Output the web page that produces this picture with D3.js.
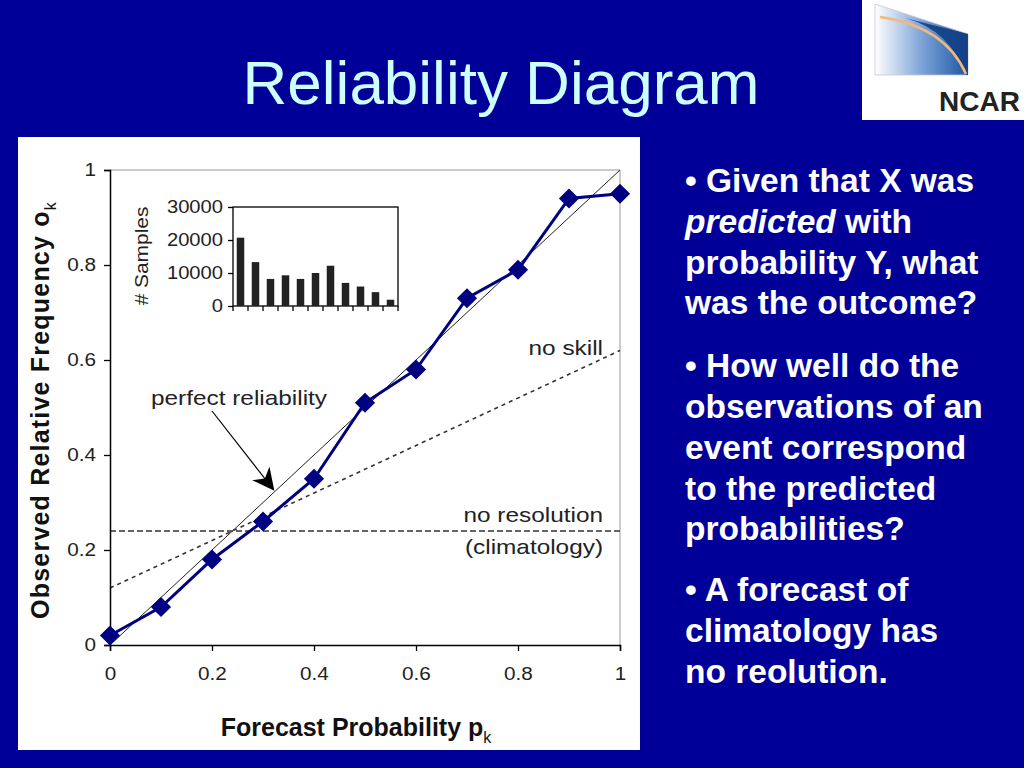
<!DOCTYPE html>
<html>
<head>
<meta charset="utf-8">
<script src="https://cdnjs.cloudflare.com/ajax/libs/d3/7.8.5/d3.min.js"></script>
<style>
  html, body { margin: 0; padding: 0; background: #000099; }
  svg { display: block; }
</style>
</head>
<body>
<svg id="slide" width="1024" height="768"></svg>
<script>
// reliability curve
const forecastProb = [0, 0.1, 0.2, 0.3, 0.4, 0.5, 0.6, 0.7, 0.8, 0.9, 1.0];
const observedFreq = [0.02, 0.08, 0.18, 0.26, 0.35, 0.51, 0.58, 0.73, 0.79, 0.94, 0.95];
// inset histogram
const sampleCounts = [20700, 13300, 8200, 9300, 8200, 10000, 12200, 7000, 5900, 4200, 1900];
const climatology = 0.24;

const mainTicks = [0, 0.2, 0.4, 0.6, 0.8, 1];
const insetTicks = [0, 10000, 20000, 30000];

const bullets = [
  [["• Given that X was", "n"]],
  [["predicted", "i"], [" with", "n"]],
  [["probability Y, what", "n"]],
  [["was the outcome?", "n"]],
  null,
  [["• How well do the", "n"]],
  [["observations of an", "n"]],
  [["event correspond", "n"]],
  [["to the predicted", "n"]],
  [["probabilities?", "n"]],
  null,
  [["• A forecast of", "n"]],
  [["climatology has", "n"]],
  [["no reolution.", "n"]]
];

const svg = d3.select("#slide");
const font = "'Liberation Sans', Arial, sans-serif";

// stretch text horizontally, the chart picture is a bit wide
function stretch(sel, k) {
  sel.each(function () {
    const w = this.getComputedTextLength();
    this.setAttribute("textLength", w * k);
    this.setAttribute("lengthAdjust", "spacingAndGlyphs");
  });
}

svg.append("rect").attr("width", 1024).attr("height", 768).attr("fill", "#000099");

// title
svg.append("text")
  .attr("x", 501).attr("y", 104)
  .attr("text-anchor", "middle")
  .style("font-family", font).style("font-size", "62px")
  .attr("fill", "#ccffff")
  .text("Reliability Diagram");

// NCAR logo
const logo = svg.append("g");
logo.append("rect").attr("x", 862).attr("y", 0).attr("width", 162).attr("height", 120).attr("fill", "#fff");
const defs = svg.append("defs");
const grad = defs.append("linearGradient").attr("id", "logoGrad").attr("x1", "0").attr("x2", "1").attr("y1", "0").attr("y2", "0");
grad.append("stop").attr("offset", "0").attr("stop-color", "#ffffff");
grad.append("stop").attr("offset", "0.5").attr("stop-color", "#7ea4d8");
grad.append("stop").attr("offset", "1").attr("stop-color", "#1a55a5");
logo.append("path")
  .attr("d", "M875,4 L968,34 L968,75 L875,75 Z")
  .attr("fill", "url(#logoGrad)").attr("stroke", "#c8c8d0").attr("stroke-width", 0.8);
logo.append("path")
  .attr("d", "M905,18 Q950,30 966,75 L968,75 L968,34 Z")
  .attr("fill", "#123f85").attr("opacity", 0.9);
logo.append("path")
  .attr("d", "M880,17 Q945,26 966,74")
  .attr("fill", "none").attr("stroke", "#f3b878").attr("stroke-width", 2.5);
logo.append("text")
  .attr("x", 1020).attr("y", 111).attr("text-anchor", "end")
  .style("font-family", font).style("font-size", "28px").style("font-weight", "bold")
  .attr("fill", "#222").text("NCAR");

// white chart panel
svg.append("rect").attr("x", 18).attr("y", 137).attr("width", 622).attr("height", 613).attr("fill", "#fff");

const x = d3.scaleLinear().domain([0, 1]).range([110, 620]);
const y = d3.scaleLinear().domain([0, 1]).range([645, 170]);

const chart = svg.append("g");

// frame top / right
chart.append("line").attr("x1", x(0)).attr("x2", x(1)).attr("y1", y(1)).attr("y2", y(1)).attr("stroke", "#999");
chart.append("line").attr("x1", x(1)).attr("x2", x(1)).attr("y1", y(0)).attr("y2", y(1)).attr("stroke", "#999");

// perfect reliability
chart.append("line").attr("x1", x(0)).attr("y1", y(0)).attr("x2", x(1)).attr("y2", y(1))
  .attr("stroke", "#222").attr("stroke-width", 1);
// no resolution
chart.append("line").attr("x1", x(0)).attr("y1", y(climatology)).attr("x2", x(1)).attr("y2", y(climatology))
  .attr("stroke", "#333").attr("stroke-width", 1.5).attr("stroke-dasharray", "6,3");
// no skill
chart.append("line").attr("x1", x(0)).attr("y1", y(climatology / 2)).attr("x2", x(1)).attr("y2", y((1 + climatology) / 2))
  .attr("stroke", "#333").attr("stroke-width", 1.6).attr("stroke-dasharray", "4,4");

// axes
const yAxis = chart.append("g").attr("transform", `translate(${x(0)},0)`)
  .call(d3.axisLeft(y).tickValues(mainTicks).tickSize(6).tickPadding(8).tickFormat(d3.format("")));
const xAxis = chart.append("g").attr("transform", `translate(0,${y(0)})`)
  .call(d3.axisBottom(x).tickValues(mainTicks).tickSize(6).tickPadding(16).tickFormat(d3.format("")));
[yAxis, xAxis].forEach(a => {
  a.select(".domain").attr("stroke", "#000").attr("stroke-width", 1.5);
  a.selectAll(".tick line").attr("stroke", "#000").attr("stroke-width", 1.3);
  a.selectAll(".tick text").style("font-family", font).style("font-size", "18px").attr("fill", "#222");
});
stretch(yAxis.selectAll(".tick text"), 1.15);
stretch(xAxis.selectAll(".tick text"), 1.15);

// reliability curve
const pts = forecastProb.map((p, i) => [p, observedFreq[i]]);
chart.append("path").datum(pts)
  .attr("d", d3.line().x(d => x(d[0])).y(d => y(d[1])))
  .attr("fill", "none").attr("stroke", "#000080").attr("stroke-width", 3);
chart.selectAll(".mk").data(pts).enter().append("path")
  .attr("class", "mk")
  .attr("transform", d => `translate(${x(d[0])},${y(d[1])})`)
  .attr("d", d3.symbol().type(d3.symbolDiamond2).size(260))
  .attr("fill", "#000080");

// annotations
const ann = chart.append("g").style("font-family", font).style("font-size", "21px").attr("fill", "#222");
ann.append("text").attr("x", 151).attr("y", 405).text("perfect reliability");
ann.append("text").attr("x", 603).attr("y", 355).attr("text-anchor", "end").text("no skill");
ann.append("text").attr("x", 603).attr("y", 522).attr("text-anchor", "end").text("no resolution");
ann.append("text").attr("x", 603).attr("y", 554).attr("text-anchor", "end").text("(climatology)");
stretch(ann.selectAll("text"), 1.16);

defs.append("marker").attr("id", "arrow").attr("viewBox", "0 0 10 10")
  .attr("refX", 9).attr("refY", 5).attr("markerWidth", 22).attr("markerHeight", 22)
  .attr("markerUnits", "userSpaceOnUse").attr("orient", "auto")
  .append("path").attr("d", "M0,0 L10,5 L0,10 L3,5 Z").attr("fill", "#000");
chart.append("line").attr("x1", 212).attr("y1", 411).attr("x2", 273).attr("y2", 489)
  .attr("stroke", "#000").attr("stroke-width", 1.2).attr("marker-end", "url(#arrow)");

// axis titles
chart.append("text")
  .attr("x", 356).attr("y", 736).attr("text-anchor", "middle")
  .style("font-family", font).style("font-size", "25px").style("font-weight", "bold").attr("fill", "#111")
  .call(t => {
    t.append("tspan").text("Forecast Probability p");
    t.append("tspan").attr("dy", 7).style("font-size", "16px").style("font-weight", "normal").text("k");
  });
chart.append("text")
  .attr("transform", "translate(49,410) rotate(-90)").attr("text-anchor", "middle")
  .style("font-family", font).style("font-size", "25px").style("font-weight", "bold").attr("fill", "#111")
  .style("letter-spacing", "1.2px")
  .call(t => {
    t.append("tspan").text("Observed Relative Frequency  o");
    t.append("tspan").attr("dy", 7).style("font-size", "16px").style("font-weight", "normal").text("k");
  });

// inset histogram
const ix = d3.scaleBand().domain(d3.range(sampleCounts.length)).range([233, 398]).paddingInner(0.5).paddingOuter(0.25);
const iy = d3.scaleLinear().domain([0, 30000]).range([306, 207]);
const inset = svg.append("g");
inset.append("rect").attr("x", 233).attr("y", 207).attr("width", 165).attr("height", 99)
  .attr("fill", "none").attr("stroke", "#000").attr("stroke-width", 1.3);
inset.selectAll(".bar").data(sampleCounts).enter().append("rect")
  .attr("class", "bar")
  .attr("x", (d, i) => ix(i)).attr("width", ix.bandwidth())
  .attr("y", d => iy(d)).attr("height", d => iy(0) - iy(d))
  .attr("fill", "#222");
const iyAxis = inset.append("g").attr("transform", "translate(233,0)")
  .call(d3.axisLeft(iy).tickValues(insetTicks).tickSize(5).tickPadding(5).tickFormat(d3.format("")));
iyAxis.select(".domain").remove();
iyAxis.selectAll(".tick line").attr("stroke", "#000").attr("stroke-width", 1.3);
iyAxis.selectAll(".tick text").style("font-family", font).style("font-size", "18px").attr("fill", "#222");
stretch(iyAxis.selectAll(".tick text"), 1.12);
const edgeTicks = d3.range(sampleCounts.length + 1).map(i => 233 + i * 165 / sampleCounts.length);
inset.selectAll(".bt").data(edgeTicks).enter().append("line")
  .attr("x1", d => d).attr("x2", d => d).attr("y1", 306).attr("y2", 311)
  .attr("stroke", "#000").attr("stroke-width", 1.3);
const sl = inset.append("text")
  .attr("transform", "translate(148,256) rotate(-90)").attr("text-anchor", "middle")
  .style("font-family", font).style("font-size", "19px").attr("fill", "#222")
  .text("# Samples");
stretch(sl, 1.1);

// bullet text
const bt = svg.append("g").style("font-family", font).style("font-size", "33.5px").style("font-weight", "bold").attr("fill", "#fff");
const lineY = [192, 233, 274, 314, 0, 377, 418, 459, 500, 540, 0, 601, 642, 683];
bullets.forEach((ln, i) => {
  if (!ln) return;
  const t = bt.append("text").attr("x", 685).attr("y", lineY[i]);
  ln.forEach(seg => {
    const s = t.append("tspan").text(seg[0]);
    if (seg[1] === "i") s.style("font-style", "italic");
  });
});
</script>
</body>
</html>
